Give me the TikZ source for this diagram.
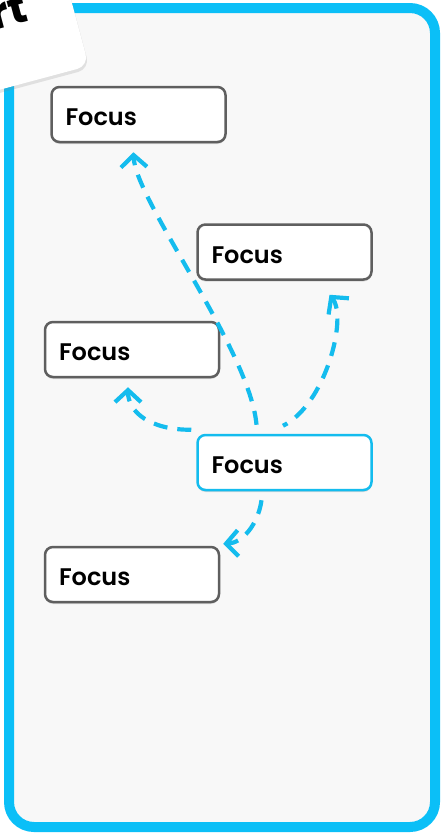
\documentclass[tikz,border=0pt]{standalone}
\usepackage{fontspec}
\setmainfont{Poppins}
\newfontfamily\focusfont{Poppins}[UprightFont={* SemiBold}]
\usepackage{tikz}
\usetikzlibrary{arrows.meta, shadows}
\definecolor{framecyan}{HTML}{0BBFF7}
\definecolor{arrowcyan}{HTML}{14BCEE}
\definecolor{boxgray}{HTML}{5F5F5F}
\definecolor{panelgray}{HTML}{F8F8F8}
\tikzset{
  focusnode/.style = {shape=rectangle, rounded corners=8pt,
                      draw=boxgray, line width=2.5pt, fill=white,
                      minimum height=55pt, text width=146pt,
                      text height=22pt, text depth=0pt,
                      inner xsep=14pt, align=left,
                      font=\fontsize{24}{28}\selectfont\focusfont,
                      drop shadow={opacity=0.25, shadow xshift=0pt, shadow yshift=-2pt}},
  focusactive/.style = {focusnode, draw=arrowcyan},
  cardbox/.style = {shape=rectangle, rounded corners=12pt, fill=white,
                    minimum width=220pt, minimum height=140pt,
                    drop shadow={opacity=0.2, shadow xshift=1pt, shadow yshift=-3pt}},
  cardlabel/.style = {inner sep=0pt, font=\fontsize{44}{48}\selectfont\bfseries},
  arrow/.style = {arrowcyan, line width=4.2pt, dash pattern=on 14pt off 10pt,
                  -{Straight Barb[length=12pt,width=26pt]}}
}

\begin{document}
\begin{tikzpicture}[x=1pt, y=-1pt]
            \useasboundingbox (0,0) rectangle (443,833);
            \draw [framecyan, line width=10pt, fill=panelgray, rounded corners=25pt] (9,8) rectangle (435,827);
            \node (card) [cardbox, rotate=15, anchor=south east] at (89,66) {};
            \node (cardtext) [cardlabel, rotate=15, anchor=base east] at (30,21) {rt};

            \node (focusa) [focusnode] at (138.5,114.5) {Focus};
            \node (focusb) [focusnode] at (284.5,252) {Focus};
            \node (focusc) [focusnode] at (132,349.5) {Focus};
            \node (focuse) [focusactive] at (284.5,462.5) {Focus};
            \node (focusd) [focusnode] at (132,574.5) {Focus};

            \draw [arrow] ([xshift=-28pt,yshift=9pt]focuse.north) .. controls (250,350) and (135,200) .. ([xshift=-5pt,yshift=-9pt]focusa.south);
            \draw [arrow, dash phase=9pt] ([xshift=-1.5pt,yshift=8pt]focuse.north) .. controls (325,405) and (348,318) .. ([xshift=45pt,yshift=-14pt]focusb.south);
            \draw [arrow] ([xshift=-5pt,yshift=4pt]focuse.north west) .. controls (150,430) and (128,412) .. ([xshift=-4pt,yshift=-9pt]focusc.south);
            \draw [arrow] ([xshift=-23pt,yshift=-9pt]focuse.south) .. controls (258,525) and (242,543) .. ([xshift=3pt,yshift=2pt]focusd.north east);
        \end{tikzpicture}
\end{document}
